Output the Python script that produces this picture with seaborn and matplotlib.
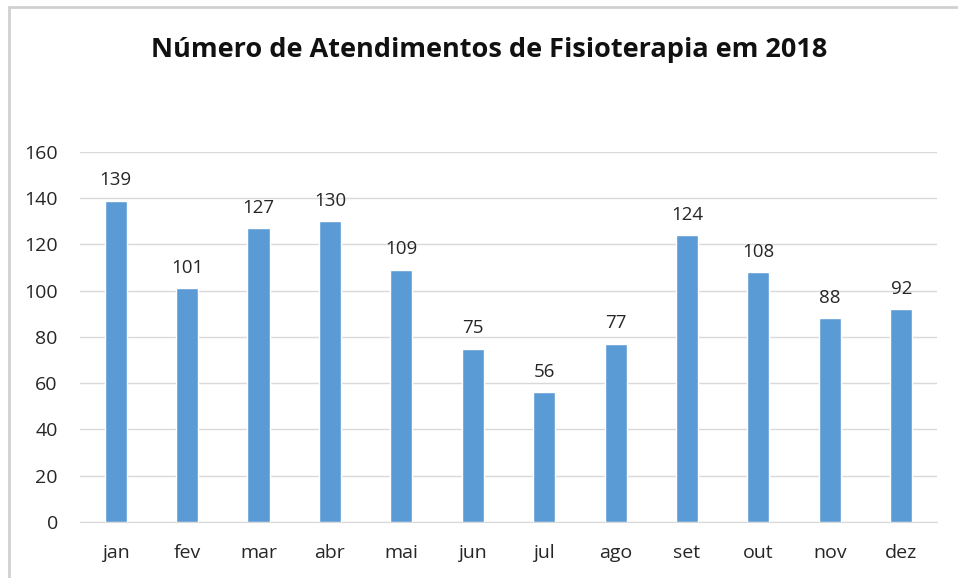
import matplotlib
matplotlib.use('Agg')
import matplotlib.pyplot as plt
import pandas as pd
import seaborn as sns
from matplotlib.lines import Line2D

meses = ['jan', 'fev', 'mar', 'abr', 'mai', 'jun', 'jul', 'ago', 'set', 'out', 'nov', 'dez']
atendimentos = [139, 101, 127, 130, 109, 75, 56, 77, 124, 108, 88, 92]
y_ticks = [0, 20, 40, 60, 80, 100, 120, 140, 160]

df = pd.DataFrame({'mes': meses, 'atendimentos': atendimentos})

sns.set_style('white')
plt.rcParams['font.family'] = ['Open Sans', 'DejaVu Sans']

fig = plt.figure(figsize=(9.58, 5.78), dpi=100)
ax = fig.add_axes([0.0835, 0.097, 0.8945, 0.64])

sns.barplot(data=df, x='mes', y='atendimentos', color='#5B9BD5', saturation=1,
            width=0.31, ax=ax, zorder=3)

for i, v in enumerate(atendimentos):
    ax.text(i, v + 5, str(v), ha='center', va='bottom', fontsize=13.5, color='#262626')

ax.set_ylim(0, 160)
ax.set_yticks(y_ticks)
ax.set_xlim(-0.5, len(meses) - 0.5)
ax.yaxis.grid(True, color='#D9D9D9', linewidth=1, zorder=0)
ax.set_axisbelow(True)
for s in ['top', 'right', 'left']:
    ax.spines[s].set_visible(False)
ax.spines['bottom'].set_color('#D9D9D9')
ax.tick_params(axis='both', length=0, labelsize=14, colors='#262626')
ax.tick_params(axis='x', pad=16)
ax.tick_params(axis='y', pad=16)
ax.set_xlabel('')
ax.set_ylabel('')

fig.text(0.511, 0.914, 'Número de Atendimentos de Fisioterapia em 2018', ha='center', va='center',
         fontsize=19.5, fontweight='bold', color='#111111')

# moldura cinza (topo e esquerda)
fig.add_artist(Line2D([0.009, 1.0], [0.988, 0.988], transform=fig.transFigure, color='#D0D0D0', linewidth=2))
fig.add_artist(Line2D([0.009, 0.009], [0.0, 0.988], transform=fig.transFigure, color='#D0D0D0', linewidth=2))

fig.savefig('out.png', dpi=100)
